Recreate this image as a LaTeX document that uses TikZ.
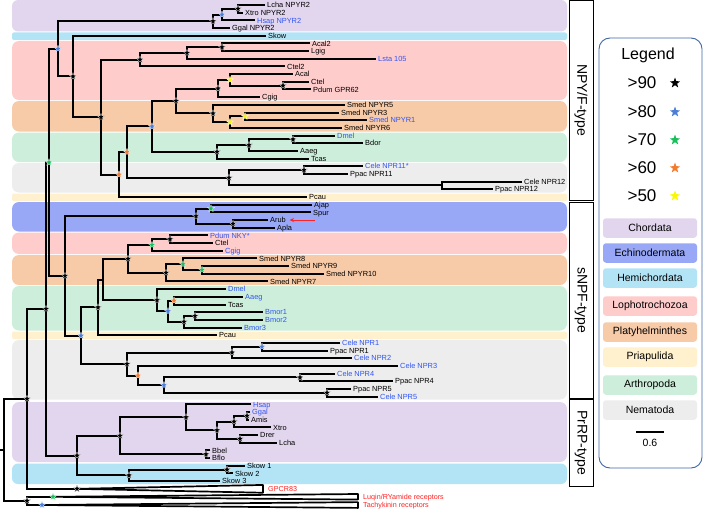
\documentclass[tikz,border=0pt]{standalone}
\usepackage{fontspec}
\setmainfont{Liberation Sans}
\usetikzlibrary{shapes.geometric,arrows.meta}
\definecolor{chord}{HTML}{E2D6EE}
\definecolor{hemi}{HTML}{B2E4F6}
\definecolor{lopho}{HTML}{FFCCCC}
\definecolor{platy}{HTML}{F8CBA8}
\definecolor{arthro}{HTML}{CDEEDA}
\definecolor{nema}{HTML}{EDEDED}
\definecolor{priap}{HTML}{FFF1CD}
\definecolor{echino}{HTML}{98A8F6}
\definecolor{bluetxt}{HTML}{2F55F5}
\definecolor{redtxt}{HTML}{FF2222}
\definecolor{starblue}{HTML}{4C7ED6}
\definecolor{stargreen}{HTML}{19C05A}
\definecolor{starorange}{HTML}{F47A2C}
\definecolor{staryellow}{HTML}{F8F800}
\definecolor{legendline}{HTML}{3E66A6}
\tikzset{
  lf/.style={anchor=west, inner sep=2pt, font=\fontsize{7.4}{8}\selectfont, text height=5.3pt, text depth=0pt},
  bl/.style={lf, text=bluetxt},
  rd/.style={lf, text=redtxt, font=\fontsize{7.2}{8}\selectfont},
  br/.style={line width=2pt},
  wedge/.style={draw, fill=white, line width=1.7pt, line join=bevel},
  mk/.style={star, star points=5, star point ratio=2.3, minimum size=7.5pt, inner sep=0pt, draw=white, line width=0.25pt},
  lst/.style={star, star points=5, star point ratio=2.5, minimum size=11pt, inner sep=0pt},
  grp/.style={rounded corners=3pt, minimum width=94pt, minimum height=19.5pt, inner sep=0pt, font=\fontsize{10.5}{12}\selectfont},
  typebox/.style={draw, line width=0.8pt, rotate=-90, minimum height=24pt, inner sep=0pt, font=\fontsize{14}{16}\selectfont},
  big/.style={font=\fontsize{17}{20}\selectfont}
}
\begin{document}
\begin{tikzpicture}[x=1pt,y=-1pt]
  \fill[white] (0,0) rectangle (703,511);
  \useasboundingbox (0,0) rectangle (703,511);
  % bands
  \fill[chord, rounded corners=6pt] (12,0) rectangle (567,31.5);
  \fill[hemi, rounded corners=2pt] (12,32.5) rectangle (567,40);
  \fill[lopho, rounded corners=7pt] (12,41) rectangle (567,100);
  \fill[platy, rounded corners=7pt] (12,101) rectangle (567,131.5);
  \fill[arthro, rounded corners=7pt] (12,132.5) rectangle (567,162);
  \fill[nema, rounded corners=7pt] (12,163) rectangle (567,192.5);
  \fill[priap, rounded corners=2pt] (12,193.5) rectangle (567,201);
  \fill[echino, rounded corners=7pt] (12,202) rectangle (567,231.5);
  \fill[lopho, rounded corners=7pt] (12,232.5) rectangle (567,254);
  \fill[platy, rounded corners=7pt] (12,255) rectangle (567,285);
  \fill[arthro, rounded corners=7pt] (12,286) rectangle (567,330.5);
  \fill[priap, rounded corners=2pt] (12,331.5) rectangle (567,339);
  \fill[nema, rounded corners=7pt] (12,340) rectangle (567,399.5);
  \fill[chord, rounded corners=7pt] (12,402) rectangle (567,462);
  \fill[hemi, rounded corners=6pt] (12,463.5) rectangle (567,484);

  % leaves
  \node[lf] (lchaA) at (265,5.00) {Lcha NPYR2};
  \node[lf] (xtroA) at (243,12.68) {Xtro NPYR2};
  \node[bl] (hsapA) at (255,20.36) {Hsap NPYR2};
  \node[lf] (ggalA) at (230,28.04) {Ggal NPYR2};
  \node[lf] (skowA) at (266,35.72) {Skow};
  \node[lf] (acal2) at (310,43.40) {Acal2};
  \node[lf] (lgig) at (309,51.08) {Lgig};
  \node[bl] (lsta) at (376,58.76) {Lsta 105};
  \node[lf] (ctel2) at (285,66.44) {Ctel2};
  \node[lf] (acalA) at (293,74.12) {Acal};
  \node[lf] (ctelA) at (309,81.80) {Ctel};
  \node[lf] (pdumA) at (311,89.48) {Pdum GPR62};
  \node[lf] (cgigA) at (260,97.16) {Cgig};
  \node[lf] (smed5) at (345,104.84) {Smed NPYR5};
  \node[lf] (smed3) at (339,112.52) {Smed NPYR3};
  \node[bl] (smed1) at (367,120.20) {Smed NPYR1};
  \node[lf] (smed6) at (342,127.88) {Smed NPYR6};
  \node[bl] (dmelA) at (335,135.56) {Dmel};
  \node[lf] (bdor) at (363,143.24) {Bdor};
  \node[lf] (aaegA) at (298,150.92) {Aaeg};
  \node[lf] (tcasA) at (309,158.60) {Tcas};
  \node[bl] (cele11) at (363,166.28) {Cele NPR11*};
  \node[lf] (ppac11) at (348,173.96) {Ppac NPR11};
  \node[lf] (cele12) at (522,181.64) {Cele NPR12};
  \node[lf] (ppac12) at (493,189.32) {Ppac NPR12};
  \node[lf] (pcauA) at (307,197.00) {Pcau};
  \node[lf] (ajap) at (312,204.68) {Ajap};
  \node[lf] (spur) at (311,212.36) {Spur};
  \node[lf] (arub) at (268,220.04) {Arub};
  \node[lf] (apla) at (275,227.72) {Apla};
  \node[bl] (pdumB) at (208,235.40) {Pdum NKY*};
  \node[lf] (ctelB) at (213,243.08) {Ctel};
  \node[bl] (cgigB) at (223,250.76) {Cgig};
  \node[lf] (smed8) at (257,258.44) {Smed NPYR8};
  \node[lf] (smed9) at (289,266.12) {Smed NPYR9};
  \node[lf] (smed10) at (324,273.80) {Smed NPYR10};
  \node[lf] (smed7) at (268,281.48) {Smed NPYR7};
  \node[bl] (dmelB) at (226,289.16) {Dmel};
  \node[bl] (aaegB) at (243,296.84) {Aaeg};
  \node[lf] (tcasB) at (226,304.52) {Tcas};
  \node[bl] (bmor1) at (263,312.20) {Bmor1};
  \node[bl] (bmor2) at (263,319.88) {Bmor2};
  \node[bl] (bmor3) at (242,327.56) {Bmor3};
  \node[lf] (pcauB) at (217,335.24) {Pcau};
  \node[bl] (cele1) at (340,342.92) {Cele NPR1};
  \node[lf] (ppac1) at (328,350.60) {Ppac NPR1};
  \node[bl] (cele2) at (352,358.28) {Cele NPR2};
  \node[bl] (cele3) at (398,365.96) {Cele NPR3};
  \node[bl] (cele4) at (335,373.64) {Cele NPR4};
  \node[lf] (ppac4) at (393,381.32) {Ppac NPR4};
  \node[lf] (ppac5) at (351,389.00) {Ppac NPR5};
  \node[bl] (cele5) at (378,396.68) {Cele NPR5};
  \node[bl] (hsapB) at (251,404.36) {Hsap};
  \node[bl] (ggalB) at (250,412.04) {Ggal};
  \node[lf] (amis) at (249,419.72) {Amis};
  \node[lf] (xtroB) at (271,427.40) {Xtro};
  \node[lf] (drer) at (258,435.08) {Drer};
  \node[lf] (lchaB) at (277,442.76) {Lcha};
  \node[lf] (bbel) at (210,450.44) {Bbel};
  \node[lf] (bflo) at (210,458.12) {Bflo};
  \node[lf] (skow1) at (245,465.80) {Skow 1};
  \node[lf] (skow2) at (233,473.48) {Skow 2};
  \node[lf] (skow3) at (220,481.16) {Skow 3};
  \node[rd] (gpcr) at (266,488.84) {GPCR83};
  \node[rd] (luq) at (361,496.80) {Luqin/RYamide receptors};
  \node[rd] (tachy) at (361,505.00) {Tachykinin receptors};

  % NPY/F-type nodes
  \coordinate (nI) at (238,8.84);
  \coordinate (nH) at (222,14.60);
  \coordinate (nF) at (213,21.32);
  \coordinate (nD) at (58,48.88);
  \coordinate (nG) at (73,76.43);
  \coordinate (nJ) at (101,117.14);
  \coordinate (nK) at (140,59.72);
  \coordinate (nM) at (187,53.00);
  \coordinate (nAL) at (222,47.24);
  \coordinate (nCP) at (283,85.64);
  \coordinate (nAc) at (230,79.88);
  \coordinate (nCg) at (218,88.52);
  \coordinate (nS31) at (245,116.36);
  \coordinate (nS6) at (230,122.12);
  \coordinate (nS5) at (213,113.48);
  \coordinate (nLP) at (176,101.00);
  \coordinate (nDB) at (293,139.40);
  \coordinate (nDA) at (249,145.16);
  \coordinate (nDT) at (217,151.88);
  \coordinate (nLA) at (152,126.44);
  \coordinate (nN11) at (304,170.12);
  \coordinate (nN12) at (442,185.48);
  \coordinate (nNe) at (229,177.80);
  \coordinate (nO1) at (127,152.12);
  \coordinate (nO2) at (119,174.56);
  % sNPF-type nodes
  \coordinate (nAS) at (211,208.52);
  \coordinate (nAA) at (233,223.88);
  \coordinate (nEc) at (196,216.20);
  \coordinate (nPC) at (170,239.24);
  \coordinate (nPG) at (152,245.00);
  \coordinate (nS910) at (202,269.96);
  \coordinate (nS8) at (183,264.20);
  \coordinate (nS7) at (166,272.84);
  \coordinate (nLP2) at (128,258.92);
  \coordinate (nAT) at (174,300.68);
  \coordinate (nB12) at (195,316.04);
  \coordinate (nB3) at (184,321.80);
  \coordinate (nAB) at (168,311.24);
  \coordinate (nAr) at (157,300.20);
  \coordinate (nPA) at (103,279.56);
  \coordinate (nPc) at (98,307.40);
  \coordinate (nC1) at (262,346.76);
  \coordinate (nC2) at (232,352.52);
  \coordinate (nN4) at (300,377.48);
  \coordinate (nN5) at (327,392.84);
  \coordinate (nN45) at (164,385.16);
  \coordinate (nN3) at (138,375.56);
  \coordinate (nNe2) at (127,364.04);
  \coordinate (nSb) at (81,335.72);
  \coordinate (nE) at (65,275.96);
  \coordinate (nC) at (49,162.42);
  % PrRP-type nodes and root
  \coordinate (nGA) at (247,415.88);
  \coordinate (nGX) at (234,421.64);
  \coordinate (nDL) at (240,438.92);
  \coordinate (nVt) at (217,430.28);
  \coordinate (nHs) at (186,417.32);
  \coordinate (nBb) at (206,454.28);
  \coordinate (nCh) at (120,435.80);
  \coordinate (nSk12) at (227,469.64);
  \coordinate (nSk) at (129,475.40);
  \coordinate (nP) at (77,455.60);
  \coordinate (nB) at (46,309.01);
  \coordinate (nGp) at (77,488.84);
  \coordinate (nA) at (27,398.93);
  \coordinate (nLq) at (53,496.80);
  \coordinate (nTk) at (42,505.00);
  \coordinate (nR2) at (27,500.90);
  \coordinate (nRoot) at (4,449.90);
  \coordinate (rootend) at (0,449.90);

  % collapsed clades
  \draw[wedge] (nGp) -- ([xshift=-3pt,yshift=3.9pt]gpcr.west) -- ([xshift=-3pt,yshift=-3.9pt]gpcr.west) -- cycle;
  \draw[wedge] (nLq) -- ([xshift=-3pt,yshift=2.8pt]luq.west) -- ([xshift=-3pt,yshift=-2.8pt]luq.west) -- cycle;
  \draw[wedge] (nTk) -- ([xshift=-3pt,yshift=2.9pt]tachy.west) -- ([xshift=-3pt,yshift=-2.9pt]tachy.west) -- cycle;

  % branches
  \draw[br] (lchaA.west) -| (nI) |- (xtroA.west);
  \draw[br] (nI) -| (nH) |- (hsapA.west);
  \draw[br] (nH) -| (nF) |- (ggalA.west);
  \draw[br] (nF) -| (nD) |- (nG);
  \draw[br] (skowA.west) -| (nG) |- (nJ);
  \draw[br] (nK) -| (nJ) |- (nO2);
  \draw[br] (nM) -| (nK) |- (ctel2.west);
  \draw[br] (nAL) -| (nM) |- (lsta.west);
  \draw[br] (acal2.west) -| (nAL) |- (lgig.west);
  \draw[br] (ctelA.west) -| (nCP) |- (pdumA.west);
  \draw[br] (acalA.west) -| (nAc) |- (nCP);
  \draw[br] (nAc) -| (nCg) |- (cgigA.west);
  \draw[br] (smed3.west) -| (nS31) |- (smed1.west);
  \draw[br] (nS31) -| (nS6) |- (smed6.west);
  \draw[br] (smed5.west) -| (nS5) |- (nS6);
  \draw[br] (nCg) -| (nLP) |- (nS5);
  \draw[br] (dmelA.west) -| (nDB) |- (bdor.west);
  \draw[br] (nDB) -| (nDA) |- (aaegA.west);
  \draw[br] (nDA) -| (nDT) |- (tcasA.west);
  \draw[br] (nLP) -| (nLA) |- (nDT);
  \draw[br] (cele11.west) -| (nN11) |- (ppac11.west);
  \draw[br] (cele12.west) -| (nN12) |- (ppac12.west);
  \draw[br] (nN11) -| (nNe) |- (nN12);
  \draw[br] (nLA) -| (nO1) |- (nNe);
  \draw[br] (nO1) -| (nO2) |- (pcauA.west);
  \draw[br] (ajap.west) -| (nAS) |- (spur.west);
  \draw[br] (arub.west) -| (nAA) |- (apla.west);
  \draw[br] (nAS) -| (nEc) |- (nAA);
  \draw[br] (pdumB.west) -| (nPC) |- (ctelB.west);
  \draw[br] (nPC) -| (nPG) |- (cgigB.west);
  \draw[br] (smed9.west) -| (nS910) |- (smed10.west);
  \draw[br] (smed8.west) -| (nS8) |- (nS910);
  \draw[br] (nS8) -| (nS7) |- (smed7.west);
  \draw[br] (nPG) -| (nLP2) |- (nS7);
  \draw[br] (aaegB.west) -| (nAT) |- (tcasB.west);
  \draw[br] (bmor1.west) -| (nB12) |- (bmor2.west);
  \draw[br] (nB12) -| (nB3) |- (bmor3.west);
  \draw[br] (nAT) -| (nAB) |- (nB3);
  \draw[br] (dmelB.west) -| (nAr) |- (nAB);
  \draw[br] (nLP2) -| (nPA) |- (nAr);
  \draw[br] (nPA) -| (nPc) |- (pcauB.west);
  \draw[br] (cele1.west) -| (nC1) |- (ppac1.west);
  \draw[br] (nC1) -| (nC2) |- (cele2.west);
  \draw[br] (cele4.west) -| (nN4) |- (ppac4.west);
  \draw[br] (ppac5.west) -| (nN5) |- (cele5.west);
  \draw[br] (nN4) -| (nN45) |- (nN5);
  \draw[br] (cele3.west) -| (nN3) |- (nN45);
  \draw[br] (nC2) -| (nNe2) |- (nN3);
  \draw[br] (nPc) -| (nSb) |- (nNe2);
  \draw[br] (nEc) -| (nE) |- (nSb);
  \draw[br] (nD) -| (nC) |- (nE);
  \draw[br] (ggalB.west) -| (nGA) |- (amis.west);
  \draw[br] (nGA) -| (nGX) |- (xtroB.west);
  \draw[br] (drer.west) -| (nDL) |- (lchaB.west);
  \draw[br] (nGX) -| (nVt) |- (nDL);
  \draw[br] (hsapB.west) -| (nHs) |- (nVt);
  \draw[br] (bbel.west) -| (nBb) |- (bflo.west);
  \draw[br] (nHs) -| (nCh) |- (nBb);
  \draw[br] (skow1.west) -| (nSk12) |- (skow2.west);
  \draw[br] (nSk12) -| (nSk) |- (skow3.west);
  \draw[br] (nCh) -| (nP) |- (nSk);
  \draw[br] (nC) -| (nB) |- (nP);
  \draw[br] (nB) -| (nA) |- (nGp);
  \draw[br] (nLq) -| (nR2) |- (nTk);
  \draw[br] (nA) -| (nRoot) |- (nR2);
  \draw[br] (nRoot) -- (rootend);

  % support
  \foreach \n in {nI,nF,nG,nJ,nK,nM,nAL,nCP,nCg,nS5,nLP,nDB,nDA,nDT,nN11,nNe,
    nAA,nEc,nPC,nS7,nLP2,nB12,nB3,nAr,nPc,nC2,nN4,nN5,nNe2,nE,
    nGA,nGX,nDL,nVt,nHs,nBb,nCh,nSk12,nSk,nP,nB,nGp,nA,nR2}
    \node[mk, fill=black] (m\n) at (\n) {};
  \foreach \n in {nH,nD,nLA,nAB,nC1,nN45,nSb,nTk}
    \node[mk, fill=starblue] (m\n) at (\n) {};
  \foreach \n in {nC,nAS,nPG,nS8,nS910,nLq}
    \node[mk, fill=stargreen] (m\n) at (\n) {};
  \foreach \n in {nO1,nO2,nAT,nN3}
    \node[mk, fill=starorange] (m\n) at (\n) {};
  \foreach \n in {nAc,nS31,nS6}
    \node[mk, fill=staryellow] (m\n) at (\n) {};

  \coordinate (arrstart) at (315,220.04);
  \draw[redtxt, line width=0.9pt, -{Stealth[length=4.5pt,width=4pt]}, shorten >=1.5pt] (arrstart) -- (arub.east);

  % type boxes
  \node[typebox, minimum width=200.5pt] (npyf) at (581,100.25) {NPY/F-type};
  \node[typebox, minimum width=196.5pt] (snpf) at (581,300.25) {sNPF-type};
  \node[typebox, minimum width=86.5pt] (prrp) at (581,442.75) {PrRP-type};

  % legend
  \draw[legendline, line width=0.9pt, rounded corners=11pt] (599,38) rectangle (702,468);
  \node[font=\fontsize{16}{19}\selectfont] (leg) at (648,55) {Legend};
  \node[big] (t90) at (642,83) {>90};
  \node[big] (t80) at (642,112) {>80};
  \node[big] (t70) at (642,140) {>70};
  \node[big] (t60) at (642,168) {>60};
  \node[big] (t50) at (642,196) {>50};
  \node[lst, fill=black] (k90) at (675,83) {};
  \node[lst, fill=starblue] (k80) at (675,112) {};
  \node[lst, fill=stargreen] (k70) at (675,140) {};
  \node[lst, fill=starorange] (k60) at (675,168) {};
  \node[lst, fill=staryellow] (k50) at (675,196) {};
  \node[grp, fill=chord] (gchord) at (650,228) {Chordata};
  \node[grp, fill=echino] (gechino) at (650,253) {Echinodermata};
  \node[grp, fill=hemi] (ghemi) at (650,278) {Hemichordata};
  \node[grp, fill=lopho] (glopho) at (650,306) {Lophotrochozoa};
  \node[grp, fill=platy] (gplaty) at (650,332) {Platyhelminthes};
  \node[grp, fill=priap] (gpriap) at (650,357) {Priapulida};
  \node[grp, fill=arthro] (garthro) at (650,385) {Arthropoda};
  \node[grp, fill=nema] (gnema) at (650,410) {Nematoda};
  \coordinate (scaleA) at (636,432);
  \coordinate (scaleB) at (664,432);
  \draw[line width=1.4pt] (scaleA) -- (scaleB);
  \node[font=\fontsize{10.5}{12}\selectfont] (scalelab) at (650,443) {0.6};
\end{tikzpicture}
\end{document}
